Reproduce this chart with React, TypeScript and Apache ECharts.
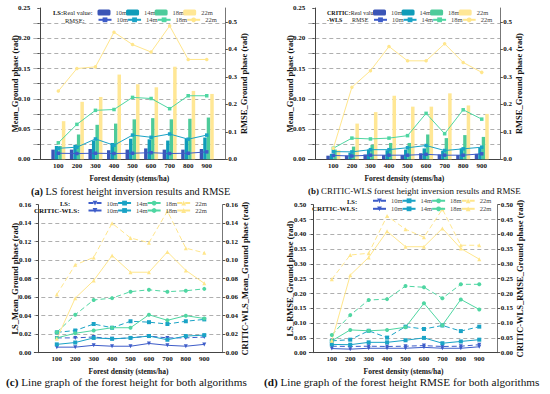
import React, { useEffect, useRef } from 'react';
import * as echarts from 'echarts';

const densities = [100, 200, 300, 400, 500, 600, 700, 800, 900];
const heights = ['10m', '14m', '18m', '22m'];

// LS mean ground phase (rad)
const lsMean10 = [0.016, 0.016, 0.017, 0.015, 0.016, 0.018, 0.016, 0.016, 0.017];
const lsMean14 = [0.022, 0.024, 0.031, 0.027, 0.034, 0.033, 0.031, 0.034, 0.036];
const lsMean18 = [0.022, 0.041, 0.057, 0.059, 0.066, 0.068, 0.066, 0.067, 0.069];
const lsMean22 = [0.063, 0.095, 0.103, 0.140, 0.124, 0.119, 0.153, 0.113, 0.108];

// CRITIC-WLS mean ground phase (rad)
const cwMean10 = [0.006, 0.006, 0.008, 0.007, 0.007, 0.010, 0.008, 0.007, 0.009];
const cwMean14 = [0.009, 0.011, 0.016, 0.015, 0.016, 0.018, 0.014, 0.018, 0.019];
const cwMean18 = [0.016, 0.021, 0.024, 0.027, 0.027, 0.041, 0.035, 0.040, 0.037];
const cwMean22 = [0.015, 0.059, 0.078, 0.105, 0.087, 0.087, 0.109, 0.089, 0.075];

// LS RMSE (rad)
const lsRmse10 = [0.022, 0.021, 0.022, 0.021, 0.022, 0.024, 0.021, 0.022, 0.027];
const lsRmse14 = [0.040, 0.044, 0.074, 0.051, 0.088, 0.080, 0.092, 0.073, 0.088];
const lsRmse18 = [0.060, 0.127, 0.178, 0.181, 0.225, 0.221, 0.184, 0.231, 0.231];
const lsRmse22 = [0.248, 0.330, 0.336, 0.462, 0.417, 0.390, 0.485, 0.363, 0.363];

// CRITIC-WLS RMSE (rad)
const cwRmse10 = [0.014, 0.012, 0.015, 0.015, 0.015, 0.018, 0.015, 0.015, 0.020];
const cwRmse14 = [0.028, 0.027, 0.035, 0.035, 0.042, 0.050, 0.032, 0.038, 0.044];
const cwRmse18 = [0.040, 0.077, 0.074, 0.077, 0.086, 0.167, 0.093, 0.180, 0.146];
const cwRmse22 = [0.040, 0.262, 0.322, 0.410, 0.358, 0.358, 0.420, 0.352, 0.316];

const FONT = 'Liberation Serif';
const barColors = ['#3A55B6', '#0F9CB9', '#4DCB9A', '#FFE795'];
const lineColors = ['#3D5CC9', '#1AA3C6', '#4FD6A2', '#FFE68C'];

const pts = (vals: number[]) => densities.map((d, i) => [d, vals[i]]);

const axisLabelStyle = { fontFamily: FONT, fontSize: 7, fontWeight: 'bold', color: '#111' };
const nameStyle = { fontFamily: FONT, fontSize: 8.5, fontWeight: 'bold', color: '#111' };

const grids = [
  { left: 33.3, top: 8, width: 192, height: 151.3 },
  { left: 308.3, top: 8, width: 192, height: 151.3 },
  { left: 34.3, top: 204.7, width: 188.4, height: 148 },
  { left: 309.3, top: 204.7, width: 188.4, height: 148 },
];

function makeX(gridIndex: number, min: number) {
  return {
    type: 'value', gridIndex, min, max: 1000,
    axisLine: { show: true, onZero: false, lineStyle: { color: '#444', width: 1 } },
    axisTick: { show: false },
    splitLine: { show: false },
    axisLabel: { ...axisLabelStyle, margin: 3, customValues: densities },
    name: 'Forest density (stems/ha)', nameLocation: 'middle', nameGap: 15,
    nameMoveOverlap: false,
    nameTextStyle: { ...nameStyle, fontSize: 7.5 },
  };
}

function makeY(gridIndex: number, position: string, max: number, interval: number,
  fmt: (v: number) => string, name: string, split: boolean, gap: number, showMax = true) {
  return {
    type: 'value', gridIndex, position, min: 0, max, interval,
    axisLine: { show: true, lineStyle: { color: position === 'left' ? '#444' : '#777', width: 1 } },
    axisTick: { show: true, length: 2.5, lineStyle: { color: '#555' } },
    axisLabel: { ...axisLabelStyle, margin: 3, formatter: fmt, showMaxLabel: showMax },
    splitLine: {
      show: split, showMinLine: false, showMaxLine: false,
      lineStyle: { type: [4, 3], color: '#9a9a9a', width: 0.8 },
    },
    name, nameLocation: 'middle', nameRotate: 90, nameGap: gap, nameMoveOverlap: false,
    nameTextStyle: nameStyle,
  };
}

const fmtA = (v: number) => (Math.round(v * 1000) % 50 === 0 ? v.toFixed(2) : '');
const fmt1 = (v: number) => v.toFixed(1);
const fmt2 = (v: number) => v.toFixed(2);

const series: any[] = [];
const lsMean = [lsMean10, lsMean14, lsMean18, lsMean22];
const cwMean = [cwMean10, cwMean14, cwMean18, cwMean22];
const lsRmse = [lsRmse10, lsRmse14, lsRmse18, lsRmse22];
const cwRmse = [cwRmse10, cwRmse14, cwRmse18, cwRmse22];
const abMarkers = ['rect', 'rect', 'rect', 'circle'];
const cdMarkers = [
  { symbol: 'triangle', symbolRotate: 180 },
  { symbol: 'rect', symbolRotate: 0 },
  { symbol: 'circle', symbolRotate: 0 },
  { symbol: 'triangle', symbolRotate: 0 },
];

const barPanels = [
  { p: 'a', grid: 0, bars: lsMean, lines: lsRmse },
  { p: 'b', grid: 1, bars: cwMean, lines: cwRmse },
];
barPanels.forEach(({ p, grid, bars, lines }) => {
  for (let k = 0; k < 4; k++) {
    series.push({
      type: 'bar', name: `${p}_bar_${k}`, xAxisIndex: grid, yAxisIndex: grid * 2,
      data: pts(bars[k]), barWidth: 3.5, barGap: '0%',
      itemStyle: { color: barColors[k] },
    });
  }
  for (let k = 0; k < 4; k++) {
    series.push({
      type: 'line', name: `${p}_line_${k}`, xAxisIndex: grid, yAxisIndex: grid * 2 + 1,
      data: pts(lines[k]), symbol: abMarkers[k], symbolSize: 3.5, z: 5,
      lineStyle: { width: 1, color: lineColors[k] }, itemStyle: { color: lineColors[k] },
    });
  }
});

const linePanels = [
  { p: 'c', grid: 2, ls: lsMean, cw: cwMean },
  { p: 'd', grid: 3, ls: lsRmse, cw: cwRmse },
];
linePanels.forEach(({ p, grid, ls, cw }) => {
  for (let k = 0; k < 4; k++) {
    series.push({
      type: 'line', name: `${p}_ls_${k}`, xAxisIndex: grid, yAxisIndex: grid * 2,
      data: pts(ls[k]), symbol: cdMarkers[k].symbol, symbolRotate: cdMarkers[k].symbolRotate, symbolSize: 4,
      lineStyle: { width: 1, type: [5, 3], color: lineColors[k] }, itemStyle: { color: lineColors[k] },
    });
  }
  for (let k = 0; k < 4; k++) {
    series.push({
      type: 'line', name: `${p}_cw_${k}`, xAxisIndex: grid, yAxisIndex: grid * 2 + 1,
      data: pts(cw[k]), symbol: cdMarkers[k].symbol, symbolRotate: cdMarkers[k].symbolRotate, symbolSize: 4,
      lineStyle: { width: 1, color: lineColors[k] }, itemStyle: { color: lineColors[k] },
    });
  }
});

const legendBase = {
  orient: 'horizontal', padding: 0, itemWidth: 13, itemHeight: 6, itemGap: -1,
  selectedMode: false,
  textStyle: { fontFamily: FONT, fontSize: 6.5, color: '#444' },
  formatter: (n: string) => heights[+n.slice(-1)],
};
const ids = (prefix: string) => [0, 1, 2, 3].map((k) => `${prefix}_${k}`);

const legends = [
  { ...legendBase, left: 97.5, top: 9, data: ids('a_bar') },
  { ...legendBase, left: 97.5, top: 16.3, data: ids('a_line') },
  { ...legendBase, left: 373, top: 9, data: ids('b_bar') },
  { ...legendBase, left: 373, top: 16.3, data: ids('b_line') },
  { ...legendBase, left: 87.5, top: 199.6, data: ids('c_ls') },
  { ...legendBase, left: 87.5, top: 207, data: ids('c_cw') },
  { ...legendBase, left: 372, top: 197.3, data: ids('d_ls') },
  { ...legendBase, left: 372, top: 205.3, data: ids('d_cw') },
];

const smallText = (x: number, y: number, text: string, size = 6.5) => ({
  type: 'text', x, y,
  style: {
    text, align: 'left', verticalAlign: 'middle', fontFamily: FONT, fontSize: size, fill: '#222',
    rich: { b: { fontWeight: 'bold', fontFamily: FONT, fontSize: size, fill: '#111' } },
  },
});
const caption = (x: number, y: number, text: string, size: number) => ({
  type: 'text', x, y,
  style: {
    text, align: 'left', verticalAlign: 'middle', fontFamily: FONT, fontSize: size, fill: '#111',
    rich: { b: { fontWeight: 'bold', fontFamily: FONT, fontSize: size, fill: '#111' } },
  },
});

const graphic = [
  smallText(53, 12.7, '{b|LS:}Real value:'),
  smallText(65, 20, 'RMSE:'),
  smallText(327, 12.7, '{b|CRITIC:}Real value', 6),
  smallText(327, 20, '{b|-WLS}', 6),
  smallText(352, 20, 'RMSE', 6),
  smallText(60, 203.3, '{b|LS:}'),
  smallText(34, 210.7, '{b|CRITIC-WLS:}', 7),
  smallText(347, 201, '{b|LS:}'),
  smallText(312, 209, '{b|CRITIC-WLS:}', 7),
  caption(31, 191, '{b|(a)} LS forest height inversion results and RMSE', 10.3),
  caption(308, 191, '{b|(b)} CRITIC-WLS forest height inversion results and RMSE', 8.9),
  caption(6, 382, '{b|(c)} Line graph of the forest height for both algorithms', 11.2),
  caption(264, 382, '{b|(d)} Line graph of the forest height RMSE for both algorithms', 11.2),
];

const option = {
  animation: false,
  backgroundColor: '#ffffff',
  grid: grids,
  xAxis: [makeX(0, -35), makeX(1, -35), makeX(2, -22), makeX(3, -22)],
  yAxis: [
    makeY(0, 'left', 0.25, 0.025, fmtA, 'Mean_Ground phase (rad)', true, 14),
    makeY(0, 'right', 0.55, 0.1, fmt1, 'RMSE_Ground phase (rad)', false, 14, false),
    makeY(1, 'left', 0.25, 0.025, fmtA, 'Mean_Ground phase (rad)', true, 14),
    makeY(1, 'right', 0.55, 0.1, fmt1, 'RMSE_Ground phase (rad)', false, 14, false),
    makeY(2, 'left', 0.16, 0.02, fmt2, 'LS_Mean_Ground phase (rad)', true, 15),
    makeY(2, 'right', 0.16, 0.02, fmt2, 'CRITIC-WLS_Mean_Ground phase (rad)', false, 18),
    makeY(3, 'left', 0.5, 0.05, fmt2, 'LS_RMSE_Ground phase (rad)', true, 15),
    makeY(3, 'right', 0.5, 0.05, fmt2, 'CRITIC-WLS_RMSE_Ground phase (rad)', false, 18),
  ],
  legend: legends,
  series,
  graphic,
};

export default function App() {
  const ref = useRef<HTMLDivElement>(null);
  useEffect(() => {
    const chart = echarts.init(ref.current as HTMLDivElement, null, { renderer: 'svg' });
    chart.setOption(option as any);
    return () => chart.dispose();
  }, []);
  return (
    <div
      ref={ref}
      style={{ position: 'fixed', left: 0, top: 0, width: 550, height: 394, background: '#fff' }}
    />
  );
}
